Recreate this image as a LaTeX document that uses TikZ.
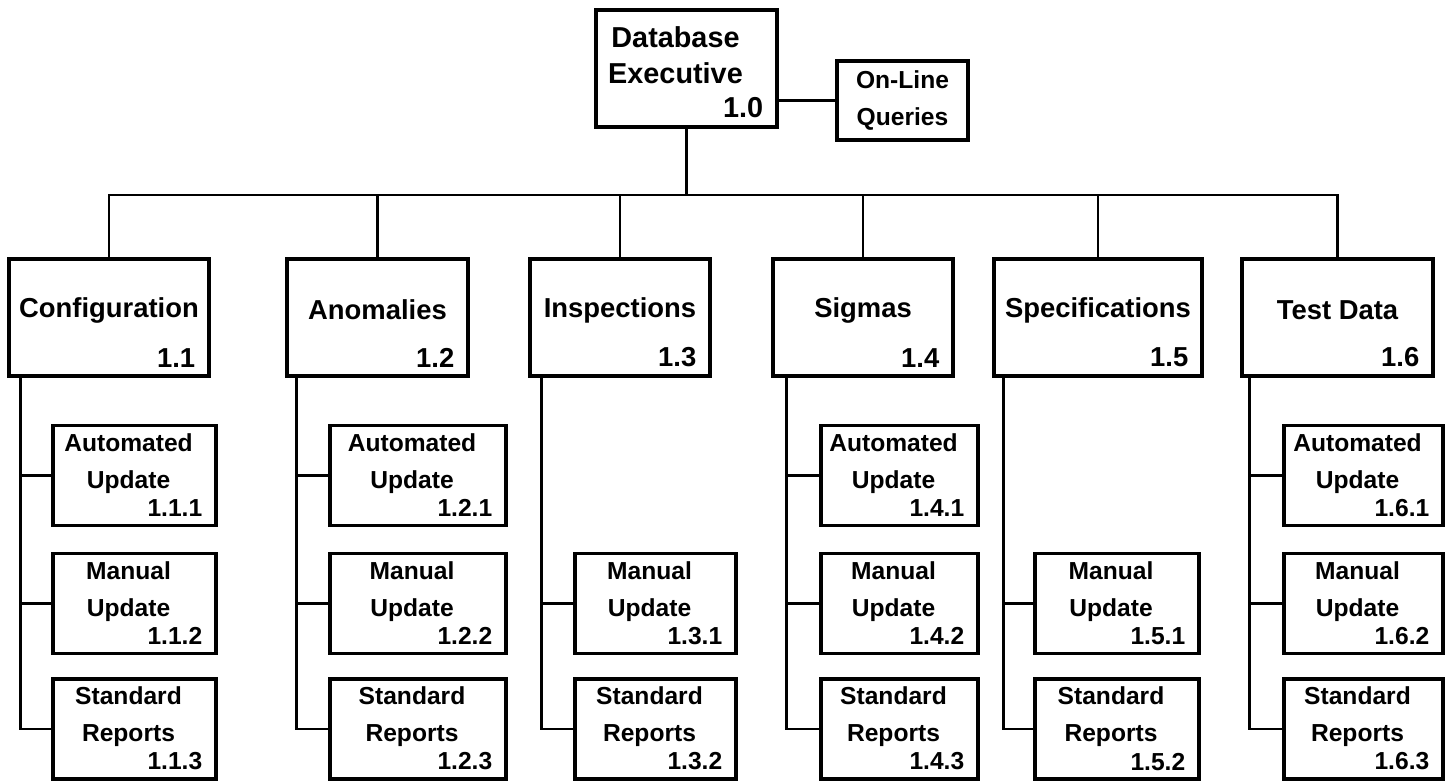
\documentclass[tikz,border=0pt]{standalone}
\usepackage{fontspec}
\setmainfont{Liberation Sans}

\def\topf{\fontsize{8.2}{10.2}\selectfont\bfseries}
\def\headf{\fontsize{7.8}{9}\selectfont\bfseries}
\def\subf{\fontsize{7}{10.5}\selectfont\bfseries}

\begin{document}
\begin{tikzpicture}[
  box/.style={draw, line width=1pt, inner sep=0pt},
  boxed/.style n args={4}{box, path picture={
    \node[draw=none, minimum size=0pt, inner sep=0pt, align=center, font=#1]
      at ([shift={#2}]path picture bounding box.center) {#3};
    \node[draw=none, minimum size=0pt, inner sep=0pt, anchor=south east, font=#1]
      at ([shift={(-0.12,0.07)}]path picture bounding box.south east) {#4};}},
  execbox/.style 2 args={boxed={\topf}{(-0.11,0.135)}{#1}{#2}, minimum height=1.17cm},
  headbox/.style 2 args={boxed={\headf}{(0,0.075)}{#1}{#2}, minimum height=1.17cm},
  subbox/.style 2 args={boxed={\subf}{(-0.06,0.12)}{#1}{#2}, minimum height=1cm},
  link/.style={line width=0.8pt}]
  \useasboundingbox (0,0) rectangle (14.56,-7.83);

  \node[execbox={Database\\Executive}{1.0}, minimum width=1.81cm] (10) at (6.865,-0.685) {};
  \node[box, minimum width=1.31cm, minimum height=0.79cm, align=center, font=\subf] (q) at (9.025,-1.005) {On-Line\\Queries};

  \node[headbox={Configuration}{1.1}, minimum width=2cm] (11) at (1.09,-3.175) {};
  \node[headbox={Anomalies}{1.2}, minimum width=1.81cm] (12) at (3.775,-3.175) {};
  \node[headbox={Inspections}{1.3}, minimum width=1.8cm] (13) at (6.2,-3.175) {};
  \node[headbox={Sigmas}{1.4}, minimum width=1.8cm] (14) at (8.63,-3.175) {};
  \node[headbox={Specifications}{1.5}, minimum width=2.08cm] (15) at (10.98,-3.175) {};
  \node[headbox={Test Data}{1.6}, minimum width=1.91cm] (16) at (13.375,-3.175) {};

  \node[subbox={Automated\\Update}{1.1.1}, minimum width=1.63cm] (111) at (1.345,-4.755) {};
  \node[subbox={Manual\\Update}{1.1.2}, minimum width=1.63cm] (112) at (1.345,-6.035) {};
  \node[subbox={Standard\\Reports}{1.1.3}, minimum width=1.63cm] (113) at (1.345,-7.29) {};
  \node[subbox={Automated\\Update}{1.2.1}, minimum width=1.76cm] (121) at (4.18,-4.755) {};
  \node[subbox={Manual\\Update}{1.2.2}, minimum width=1.76cm] (122) at (4.18,-6.035) {};
  \node[subbox={Standard\\Reports}{1.2.3}, minimum width=1.76cm] (123) at (4.18,-7.29) {};
  \node[subbox={Manual\\Update}{1.3.1}, minimum width=1.61cm] (131) at (6.555,-6.035) {};
  \node[subbox={Standard\\Reports}{1.3.2}, minimum width=1.61cm] (132) at (6.555,-7.29) {};
  \node[subbox={Automated\\Update}{1.4.1}, minimum width=1.57cm] (141) at (8.995,-4.755) {};
  \node[subbox={Manual\\Update}{1.4.2}, minimum width=1.57cm] (142) at (8.995,-6.035) {};
  \node[subbox={Standard\\Reports}{1.4.3}, minimum width=1.57cm] (143) at (8.995,-7.29) {};
  \node[subbox={Manual\\Update}{1.5.1}, minimum width=1.64cm] (151) at (11.17,-6.035) {};
  \node[subbox={Standard\\Reports}{1.5.2}, minimum width=1.64cm] (152) at (11.17,-7.29) {};
  \node[subbox={Automated\\Update}{1.6.1}, minimum width=1.59cm] (161) at (13.635,-4.755) {};
  \node[subbox={Manual\\Update}{1.6.2}, minimum width=1.59cm] (162) at (13.635,-6.035) {};
  \node[subbox={Standard\\Reports}{1.6.3}, minimum width=1.59cm] (163) at (13.635,-7.29) {};

  \coordinate (bus) at (6.865,-1.95);
  \draw[link] (10) -- (bus);
  \draw[link] (q.west) -- (q.west -| 10.east);
  \draw[link] (bus) -| (11);
  \draw[link] (bus) -| (12);
  \draw[link] (bus) -| (13);
  \draw[link] (bus) -| (14);
  \draw[link] (bus) -| (15);
  \draw[link] (bus) -| (16);

  \draw[link] ([xshift=0.13cm]11.south west) |- (111);
  \draw[link] ([xshift=0.13cm]11.south west) |- (112);
  \draw[link] ([xshift=0.13cm]11.south west) |- (113);
  \draw[link] ([xshift=0.11cm]12.south west) |- (121);
  \draw[link] ([xshift=0.11cm]12.south west) |- (122);
  \draw[link] ([xshift=0.11cm]12.south west) |- (123);
  \draw[link] ([xshift=0.13cm]13.south west) |- (131);
  \draw[link] ([xshift=0.13cm]13.south west) |- (132);
  \draw[link] ([xshift=0.15cm]14.south west) |- (141);
  \draw[link] ([xshift=0.15cm]14.south west) |- (142);
  \draw[link] ([xshift=0.15cm]14.south west) |- (143);
  \draw[link] ([xshift=0.11cm]15.south west) |- (151);
  \draw[link] ([xshift=0.11cm]15.south west) |- (152);
  \draw[link] ([xshift=0.09cm]16.south west) |- (161);
  \draw[link] ([xshift=0.09cm]16.south west) |- (162);
  \draw[link] ([xshift=0.09cm]16.south west) |- (163);
\end{tikzpicture}
\end{document}
